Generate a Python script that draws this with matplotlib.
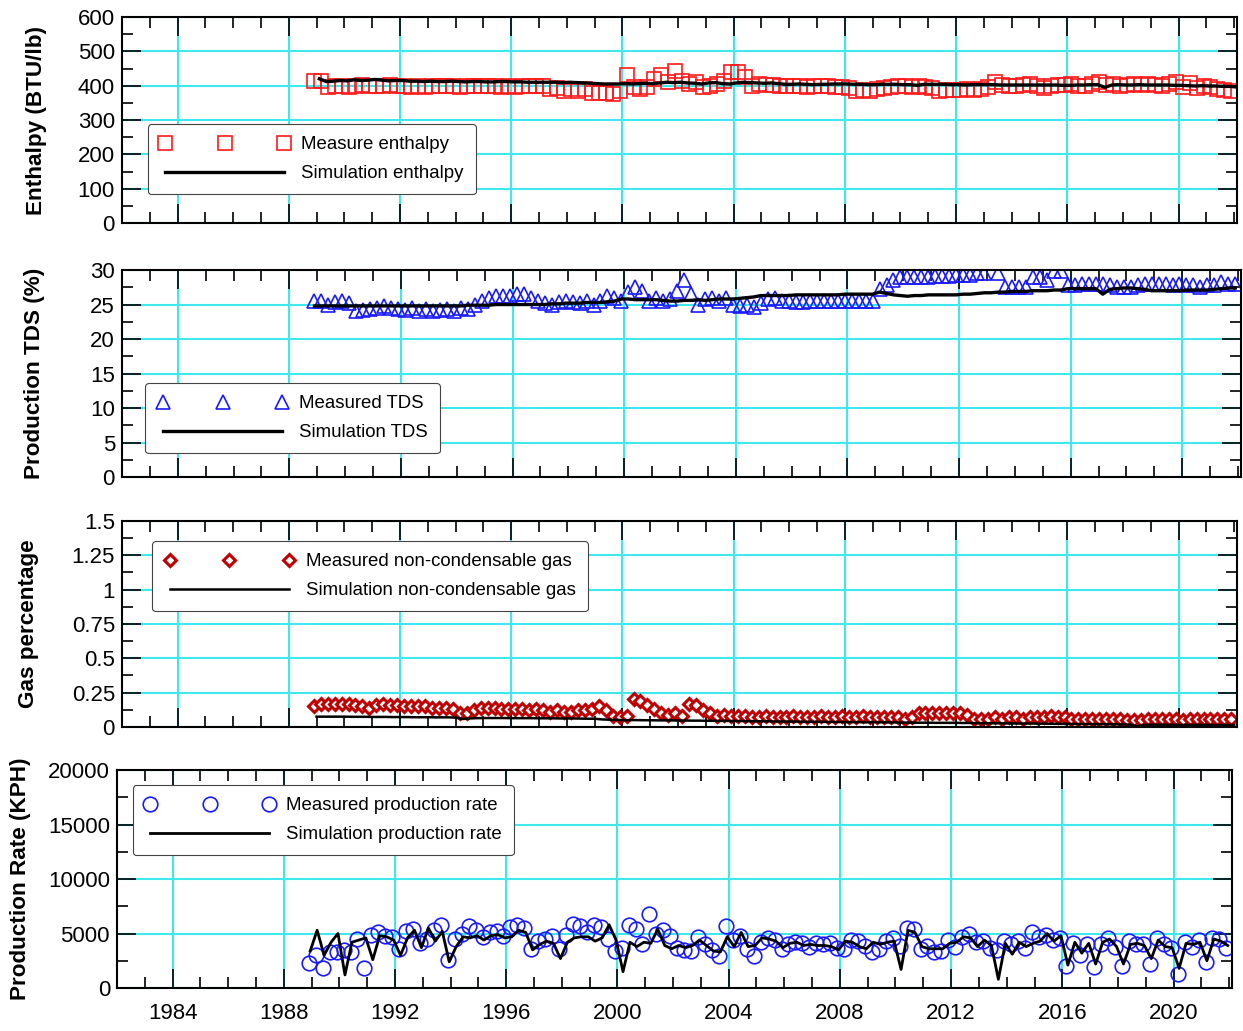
import matplotlib
matplotlib.use("Agg")
import matplotlib.pyplot as plt
import matplotlib.ticker as mtick
import numpy as np

plt.rcParams['font.family'] = ['Liberation Sans', 'DejaVu Sans']

# quarterly samples, first sample at start_year
start_year = 1988.9

enthalpy_measured = [
    415, 415, 395, 398,  400, 395, 398, 402,  400, 398, 400, 402,  398, 400, 397, 400,
    395, 398, 400, 400,  398, 395, 400, 400,  400, 398, 400, 397,  400, 395, 398, 400,
    400, 398, 390, 392,  385, 390, 385, 390,  380, 378, 380, 375,  385, 432, 395, 390,
    395, 420, 430, 410,  442, 415, 405, 410,  395, 400, 405, 415,  440, 440, 425, 400,
    405, 402, 402, 400,  400, 398, 400, 395,  398, 400, 400, 397,  395, 393, 385, 388,
    385, 390, 392, 395,  398, 400, 397, 398,  395, 393, 385, 388,  388, 386, 390, 388,
    390, 395, 412, 402,  400, 398, 402, 405,  400, 393, 400, 402,  402, 405, 398, 400,
    405, 410, 403, 405,  400, 402, 404, 403,  405, 402, 400, 405,  410, 395, 408, 392,
    398, 395, 390, 388,  385]
enthalpy_sim = [
    420, 412, 413, 415,  414, 417, 415, 416,  418, 416, 414, 415,  415, 413, 413, 412,
    413, 412, 412, 413,  412, 411, 412, 412,  411, 411, 412, 412,  411, 411, 410, 410,
    410, 410, 410, 409,  410, 409, 408, 407,  406, 405, 405, 405,  406, 405, 406, 407,
    406, 408, 410, 409,  410, 408, 407, 405,  408, 409, 406, 405,  408, 410, 409, 408,
    407, 408, 406, 404,  404, 405, 404, 403,  404, 404, 405, 405,  405, 404, 404, 403,
    403, 404, 404, 404,  403, 403, 401, 404,  404, 404, 404, 403,  403, 402, 403, 403,
    403, 403, 402, 402,  402, 402, 402, 402,  402, 402, 402, 401,  401, 402, 402, 403,
    403, 395, 402, 403,  402, 402, 403, 402,  402, 402, 402, 401,  401, 400, 399, 400,
    399, 399, 398, 398,  396]

tds_measured = [
    25.5, 25.5, 25.0, 25.3,  25.5, 25.2, 24.0, 24.2,  24.3, 24.5, 24.8, 24.5,  24.3, 24.2, 24.5, 24.0,
    24.3, 24.0, 24.2, 24.3,  24.0, 24.5, 24.3, 25.0,  25.5, 26.0, 26.3, 26.2,  26.3, 26.5, 26.5, 26.0,
    25.5, 25.2, 25.0, 25.3,  25.5, 25.3, 25.2, 25.5,  25.0, 25.5, 26.2, 26.0,  25.5, 26.8, 27.5, 27.0,
    25.5, 26.0, 25.5, 25.8,  27.0, 28.5, 26.5, 25.0,  25.8, 26.0, 25.5, 26.0,  25.0, 24.8, 25.0, 24.7,
    25.2, 25.8, 26.0, 25.5,  25.5, 25.3, 25.3, 25.5,  25.5, 25.5, 25.5, 25.5,  25.5, 25.5, 25.5, 25.5,
    25.5, 27.2, 27.8, 28.5,  29.0, 29.0, 29.0, 29.0,  29.0, 29.2, 29.2, 29.2,  29.3, 29.3, 29.3, 29.5,
    29.5, 31.0, 29.5, 27.5,  27.5, 27.5, 27.5, 29.0,  29.0, 28.5, 29.8, 29.8,  27.8, 27.8, 28.0, 28.0,
    28.0, 28.0, 27.8, 27.5,  27.5, 27.5, 27.8, 28.0,  28.0, 28.0, 28.0, 27.8,  28.0, 27.8, 27.8, 27.5,
    27.8, 27.8, 28.2, 28.0,  28.0]
tds_sim = [
    24.8, 24.8, 24.8, 24.8,  24.8, 24.8, 24.8, 24.8,  24.8, 24.8, 24.8, 24.8,  24.8, 24.8, 24.8, 24.8,
    24.8, 24.8, 24.8, 24.8,  24.8, 24.8, 24.9, 24.9,  24.9, 24.9, 25.0, 25.0,  25.0, 25.0, 25.0, 25.0,
    25.0, 25.0, 25.1, 25.1,  25.2, 25.2, 25.2, 25.3,  25.3, 25.3, 25.4, 25.5,  25.8, 25.8, 25.7, 25.7,
    25.7, 25.7, 25.6, 25.5,  25.5, 25.6, 25.6, 25.7,  25.6, 25.7, 25.8, 25.8,  25.8, 25.9, 26.0, 26.1,
    26.3, 26.3, 26.3, 26.3,  26.3, 26.4, 26.4, 26.4,  26.4, 26.4, 26.4, 26.4,  26.5, 26.5, 26.5, 26.5,
    26.5, 26.8, 26.6, 26.4,  26.3, 26.2, 26.3, 26.3,  26.4, 26.4, 26.4, 26.4,  26.4, 26.5, 26.5, 26.6,
    26.7, 26.7, 26.8, 26.8,  26.9, 26.9, 26.9, 27.0,  27.0, 27.0, 27.1, 27.1,  27.3, 27.3, 27.3, 27.3,
    27.3, 26.5, 27.2, 27.3,  27.4, 27.4, 27.3, 27.2,  27.0, 27.0, 27.0, 27.0,  27.0, 27.1, 27.1, 27.1,
    27.1, 27.2, 27.3, 27.4,  27.4]

gas_measured = [
    0.15, 0.17, 0.17, 0.17,  0.17, 0.17, 0.16, 0.15,  0.14, 0.16, 0.17, 0.16,  0.16, 0.15, 0.15, 0.15,
    0.15, 0.14, 0.14, 0.14,  0.13, 0.10, 0.10, 0.12,  0.14, 0.14, 0.14, 0.13,  0.13, 0.13, 0.13, 0.12,
    0.13, 0.12, 0.11, 0.12,  0.11, 0.11, 0.12, 0.12,  0.13, 0.15, 0.12, 0.08,  0.07, 0.08, 0.20, 0.19,
    0.16, 0.13, 0.10, 0.09,  0.10, 0.08, 0.17, 0.16,  0.12, 0.10, 0.08, 0.09,  0.08, 0.08, 0.08, 0.07,
    0.07, 0.08, 0.07, 0.07,  0.07, 0.08, 0.07, 0.07,  0.07, 0.08, 0.07, 0.07,  0.08, 0.07, 0.07, 0.08,
    0.07, 0.07, 0.07, 0.07,  0.07, 0.06, 0.07, 0.10,  0.10, 0.10, 0.10, 0.10,  0.10, 0.10, 0.09, 0.06,
    0.06, 0.06, 0.07, 0.06,  0.07, 0.07, 0.06, 0.07,  0.07, 0.07, 0.08, 0.07,  0.07, 0.06, 0.06, 0.06,
    0.06, 0.06, 0.06, 0.06,  0.06, 0.05, 0.05, 0.05,  0.06, 0.06, 0.06, 0.06,  0.06, 0.05, 0.06, 0.06,
    0.06, 0.06, 0.06, 0.06,  0.06]
gas_sim = [
    0.075, 0.075, 0.075, 0.075,  0.075, 0.074, 0.074, 0.074,  0.073, 0.073, 0.073, 0.072,  0.072, 0.072, 0.071, 0.071,
    0.071, 0.070, 0.070, 0.070,  0.068, 0.058, 0.062, 0.064,  0.065, 0.065, 0.065, 0.065,  0.064, 0.064, 0.064, 0.064,
    0.063, 0.063, 0.063, 0.062,  0.062, 0.062, 0.061, 0.060,  0.060, 0.055, 0.053, 0.052,  0.050, 0.050, 0.050, 0.049,
    0.049, 0.048, 0.048, 0.048,  0.047, 0.047, 0.046, 0.046,  0.045, 0.045, 0.044, 0.044,  0.043, 0.043, 0.042, 0.042,
    0.041, 0.041, 0.040, 0.040,  0.039, 0.039, 0.038, 0.038,  0.037, 0.037, 0.036, 0.036,  0.035, 0.035, 0.035, 0.034,
    0.034, 0.034, 0.033, 0.033,  0.032, 0.032, 0.031, 0.031,  0.031, 0.030, 0.030, 0.030,  0.030, 0.029, 0.029, 0.028,
    0.028, 0.027, 0.027, 0.026,  0.026, 0.025, 0.025, 0.025,  0.024, 0.024, 0.023, 0.023,  0.022, 0.022, 0.021, 0.021,
    0.020, 0.020, 0.019, 0.019,  0.018, 0.017, 0.005, 0.015,  0.016, 0.016, 0.016, 0.015,  0.015, 0.015, 0.015, 0.015,
    0.015, 0.014, 0.014, 0.014,  0.014]

rate_measured = [
    2300, 3000, 1800, 3300,  3300, 3500, 3300, 4500,  1800, 4900, 5100, 4800,  4700, 3600, 5200, 5400,
    4100, 4500, 5300, 5800,  2600, 4500, 5000, 5700,  5300, 4700, 5100, 5200,  4800, 5600, 5800, 5500,
    3600, 4300, 4500, 4800,  3600, 4900, 5900, 5700,  5100, 5800, 5600, 4500,  3400, 3700, 5800, 5400,
    4000, 6800, 5000, 5300,  4800, 3700, 3500, 3400,  4700, 4000, 3500, 2900,  5700, 4400, 4800, 3600,
    2900, 4200, 4600, 4400,  3600, 4000, 4200, 4100,  3800, 4100, 4000, 4100,  3700, 3600, 4400, 4300,
    3900, 3300, 3600, 4300,  4600, 3900, 5500, 5400,  3600, 3900, 3300, 3400,  4400, 3800, 4700, 5000,
    4200, 4300, 3700, 3500,  4300, 4000, 4300, 3700,  5100, 4700, 4900, 4400,  4600, 2000, 4100, 3000,
    4000, 1900, 4000, 4600,  3800, 2000, 4300, 4000,  4000, 2200, 4600, 4000,  3700, 1300, 4200, 3800,
    4400, 2400, 4600, 4500,  3700]
rate_sim = [
    3400, 5300, 3000, 4200,  5000, 1200, 4200, 4400,  4600, 2600, 4800, 4700,  4400, 3000, 4600, 5300,
    3700, 5500, 4300, 5200,  2400, 3800, 4700, 4600,  4800, 4400, 4800, 4900,  4600, 4700, 5300, 5100,
    3500, 4000, 4300, 4100,  2700, 4200, 4600, 4700,  4700, 4300, 4600, 5800,  4400, 1500, 4200, 3800,
    4200, 4100, 5400, 3900,  3600, 3900, 3700, 3900,  4400, 3900, 3400, 3300,  4700, 3800, 5100, 3800,
    3900, 4600, 4500, 4300,  3700, 4100, 4200, 3900,  4000, 3900, 3900, 3800,  3500, 4300, 4200, 3800,
    3600, 4200, 4000, 4200,  4300, 1700, 5300, 5100,  3800, 3600, 3600, 3600,  4100, 4200, 4700, 4600,
    3800, 4400, 3900, 800,   4100, 3100, 4200, 3800,  4100, 4300, 5000, 4300,  4800, 2100, 4200, 3200,
    4100, 2200, 4200, 4500,  3800, 2200, 4000, 4100,  3900, 2700, 4400, 3800,  3700, 1800, 4100, 4000,
    4200, 2500, 4500, 4300,  3900]

year_ticks = np.arange(1984, 2021, 4)


def quarters(values):
    return start_year + np.arange(len(values)) / 4.0


def style_axis(ax, ymax, ymajor, yminor, fmt=None):
    ax.set_xlim(1982, 2022.1)
    ax.set_ylim(0, ymax)
    ax.xaxis.set_major_locator(mtick.FixedLocator(year_ticks))
    ax.xaxis.set_minor_locator(mtick.MultipleLocator(1))
    ax.yaxis.set_major_locator(mtick.MultipleLocator(ymajor))
    ax.yaxis.set_minor_locator(mtick.MultipleLocator(yminor))
    if fmt is not None:
        ax.yaxis.set_major_formatter(mtick.FuncFormatter(fmt))
    ax.tick_params(which='both', direction='in', top=True, right=True, labelsize=16)
    ax.tick_params(which='major', length=14, width=1.2, pad=5)
    ax.tick_params(which='minor', length=8, width=1.2)
    ax.tick_params(axis='x', which='major', pad=11)
    ax.grid(True, which='major', color='#3fe8ec', linewidth=1.5)
    ax.set_axisbelow(True)
    for sp in ax.spines.values():
        sp.set_linewidth(1.5)


def add_legend(ax, x, y):
    leg = ax.legend(loc='upper left', bbox_to_anchor=(x, y), borderaxespad=0,
                    numpoints=3, handlelength=7.0, handletextpad=0.6, fontsize=13.4,
                    labelspacing=0.65, fancybox=True, framealpha=1,
                    edgecolor='#444444', borderpad=0.65)
    leg.get_frame().set_linewidth(0.8)
    return leg


fig = plt.figure(figsize=(12.43, 10.31), dpi=100)

# enthalpy
ax1 = fig.add_axes([0.0981, 0.7837, 0.897, 0.1998])
ax1.plot(quarters(enthalpy_measured), enthalpy_measured, 's', ms=10.5, mfc='none',
         mec='#ff1a1a', mew=1.2, label='Measure enthalpy')
ax1.plot(quarters(enthalpy_sim) + 0.2, enthalpy_sim, '-', color='black', lw=2.4,
         label='Simulation enthalpy')
style_axis(ax1, 600, 100, 50)
ax1.set_xticklabels([])
ax1.set_ylabel('Enthalpy (BTU/lb)', fontsize=16.2, fontweight='bold')
ax1.yaxis.set_label_coords(-0.067, 0.5)
add_legend(ax1, 0.023, 0.48)

# TDS
ax2 = fig.add_axes([0.0981, 0.5373, 0.9002, 0.2008])
ax2.plot(quarters(tds_measured), tds_measured, '^', ms=10, mfc='none',
         mec='#1a1aff', mew=1.2, label='Measured TDS')
ax2.plot(quarters(tds_sim), tds_sim, '-', color='black', lw=2.4, label='Simulation TDS')
style_axis(ax2, 30, 5, 2.5)
ax2.set_xticklabels([])
ax2.set_ylabel('Production TDS (%)', fontsize=16.2, fontweight='bold')
ax2.yaxis.set_label_coords(-0.069, 0.5)
add_legend(ax2, 0.021, 0.454)

# gas
ax3 = fig.add_axes([0.0981, 0.2949, 0.897, 0.1998])
ax3.plot(quarters(gas_measured), gas_measured, 'D', ms=6.5, mfc='white',
         mec='#c00000', mew=2.2, label='Measured non-condensable gas')
ax3.plot(quarters(gas_sim) + 0.1, gas_sim, '-', color='black', lw=1.8,
         label='Simulation non-condensable gas')
style_axis(ax3, 1.5, 0.25, 0.125, fmt=lambda v, p: ('%g' % v))
ax3.set_xticklabels([])
ax3.set_ylabel('Gas percentage', fontsize=16.2, fontweight='bold')
ax3.yaxis.set_label_coords(-0.074, 0.5)
add_legend(ax3, 0.027, 0.903)

# production rate
ax4 = fig.add_axes([0.0941, 0.0417, 0.897, 0.2114])
ax4.plot(quarters(rate_measured), rate_measured, 'o', ms=10.5, mfc='none',
         mec='#1a1aff', mew=1.2, label='Measured production rate')
ax4.plot(quarters(rate_sim) + 0.05, rate_sim, '-', color='black', lw=2,
         label='Simulation production rate')
style_axis(ax4, 20000, 5000, 2500)
ax4.set_ylabel('Production Rate (KPH)', fontsize=16.2, fontweight='bold')
ax4.yaxis.set_label_coords(-0.077, 0.5)
add_legend(ax4, 0.014, 0.931)

fig.savefig('out.png', dpi=100)
